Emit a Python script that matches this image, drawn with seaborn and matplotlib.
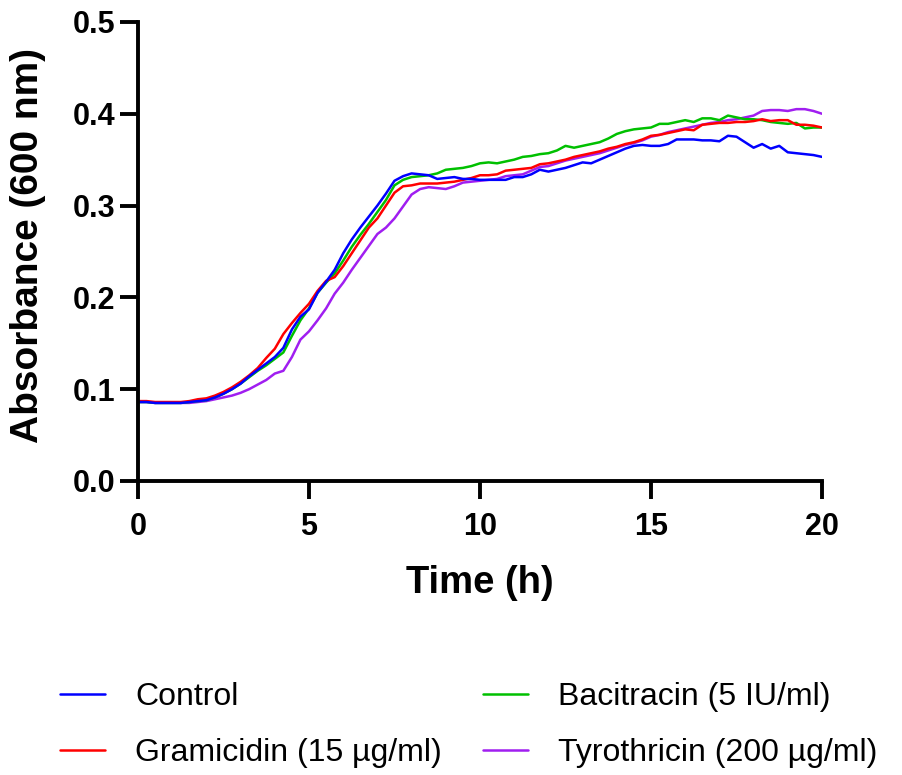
import numpy as np
import pandas as pd
import matplotlib
matplotlib.use("Agg")
import matplotlib.pyplot as plt
import seaborn as sns
from matplotlib.lines import Line2D

time_h = np.arange(0, 20.001, 0.25)

control = [0.086, 0.086, 0.085, 0.085, 0.085, 0.085, 0.086, 0.087, 0.088, 0.091,
           0.095, 0.100, 0.106, 0.114, 0.121, 0.128, 0.135, 0.145, 0.165, 0.179,
           0.187, 0.205, 0.217, 0.230, 0.248, 0.263, 0.276, 0.288, 0.300, 0.313,
           0.327, 0.332, 0.335, 0.334, 0.333, 0.329, 0.330, 0.331, 0.329, 0.329,
           0.328, 0.328, 0.328, 0.328, 0.331, 0.331, 0.334, 0.339, 0.337, 0.339,
           0.341, 0.344, 0.347, 0.346, 0.350, 0.354, 0.358, 0.362, 0.365, 0.366,
           0.365, 0.365, 0.367, 0.372, 0.372, 0.372, 0.371, 0.371, 0.370, 0.376,
           0.375, 0.369, 0.363, 0.367, 0.362, 0.365, 0.358, 0.357, 0.356, 0.355,
           0.353]

bacitracin = [0.086, 0.086, 0.085, 0.085, 0.085, 0.085, 0.086, 0.087, 0.088, 0.091,
              0.095, 0.100, 0.106, 0.113, 0.120, 0.126, 0.133, 0.140, 0.158, 0.175,
              0.188, 0.205, 0.216, 0.226, 0.240, 0.255, 0.268, 0.280, 0.293, 0.306,
              0.322, 0.328, 0.331, 0.332, 0.333, 0.335, 0.339, 0.340, 0.341, 0.343,
              0.346, 0.347, 0.346, 0.348, 0.350, 0.353, 0.354, 0.356, 0.357, 0.360,
              0.365, 0.363, 0.365, 0.367, 0.369, 0.373, 0.378, 0.381, 0.383, 0.384,
              0.385, 0.389, 0.389, 0.391, 0.393, 0.391, 0.395, 0.395, 0.393, 0.398,
              0.396, 0.394, 0.394, 0.393, 0.391, 0.390, 0.389, 0.390, 0.384, 0.385,
              0.385]

gramicidin = [0.087, 0.087, 0.086, 0.086, 0.086, 0.086, 0.087, 0.089, 0.090, 0.093,
              0.097, 0.102, 0.108, 0.115, 0.123, 0.134, 0.144, 0.160, 0.172, 0.183,
              0.193, 0.207, 0.218, 0.222, 0.234, 0.248, 0.262, 0.276, 0.286, 0.300,
              0.314, 0.321, 0.322, 0.324, 0.324, 0.324, 0.325, 0.326, 0.328, 0.330,
              0.333, 0.333, 0.334, 0.338, 0.339, 0.340, 0.341, 0.345, 0.346, 0.348,
              0.350, 0.353, 0.355, 0.357, 0.359, 0.362, 0.364, 0.367, 0.369, 0.372,
              0.376, 0.377, 0.379, 0.381, 0.383, 0.382, 0.388, 0.389, 0.390, 0.390,
              0.391, 0.391, 0.392, 0.394, 0.392, 0.393, 0.393, 0.388, 0.388, 0.387,
              0.385]

tyrothricin = [0.086, 0.086, 0.085, 0.085, 0.085, 0.085, 0.085, 0.086, 0.087, 0.089,
               0.091, 0.093, 0.096, 0.100, 0.105, 0.110, 0.117, 0.120, 0.135, 0.154,
               0.163, 0.175, 0.188, 0.204, 0.216, 0.230, 0.243, 0.256, 0.269, 0.276,
               0.286, 0.299, 0.312, 0.318, 0.320, 0.319, 0.318, 0.321, 0.325, 0.326,
               0.327, 0.328, 0.329, 0.332, 0.333, 0.334, 0.338, 0.342, 0.343, 0.346,
               0.349, 0.351, 0.353, 0.355, 0.357, 0.360, 0.363, 0.366, 0.368, 0.371,
               0.375, 0.377, 0.380, 0.382, 0.384, 0.386, 0.388, 0.390, 0.391, 0.393,
               0.394, 0.396, 0.398, 0.403, 0.404, 0.404, 0.403, 0.405, 0.405, 0.403,
               0.400]

labels = ["Control", "Bacitracin (5 IU/ml)", "Gramicidin (15 µg/ml)", "Tyrothricin (200 µg/ml)"]
colors = ["#0000FF", "#00C000", "#FF0000", "#A01EF0"]
series = [control, bacitracin, gramicidin, tyrothricin]
draw_order = ["Tyrothricin (200 µg/ml)", "Bacitracin (5 IU/ml)", "Gramicidin (15 µg/ml)", "Control"]

frames = []
for lab, vals in zip(labels, series):
    frames.append(pd.DataFrame({"Time (h)": time_h, "Absorbance": vals, "Condition": lab}))
df = pd.concat(frames, ignore_index=True)

sns.set_style("ticks")
plt.rcParams['font.family'] = ['Liberation Sans', 'DejaVu Sans']
plt.rcParams['text.color'] = 'black'
plt.rcParams['axes.labelcolor'] = 'black'
plt.rcParams['xtick.color'] = 'black'
plt.rcParams['ytick.color'] = 'black'

fig = plt.figure(figsize=(9.02, 7.75), dpi=100)
ax = fig.add_axes([0.153, 0.3794, 0.7583, 0.5923])

palette = dict(zip(labels, colors))
sns.lineplot(data=df, x="Time (h)", y="Absorbance", hue="Condition",
             hue_order=draw_order, palette=palette, linewidth=1.8,
             ax=ax, legend=False)

ax.set_xlim(0, 20)
ax.set_ylim(0, 0.5)
ax.set_xticks([0, 5, 10, 15, 20])
ax.set_yticks([0.0, 0.1, 0.2, 0.3, 0.4, 0.5])
ax.set_yticklabels(["0.0", "0.1", "0.2", "0.3", "0.4", "0.5"])
for s in ["top", "right"]:
    ax.spines[s].set_visible(False)
for s in ["left", "bottom"]:
    ax.spines[s].set_linewidth(2.8)
    ax.spines[s].set_color("black")
    ax.spines[s].set_capstyle("projecting")
ax.tick_params(axis="both", width=2.8, length=13, labelsize=22, color="black",
               labelcolor="black")
ax.tick_params(axis="y", pad=3.5)
ax.tick_params(axis="x", pad=9)
for t in ax.get_xticklabels() + ax.get_yticklabels():
    t.set_fontweight("bold")
ax.set_xlabel("Time (h)", fontsize=27.5, fontweight="bold")
ax.set_ylabel("Absorbance (600 nm)", fontsize=28, fontweight="bold")
ax.xaxis.set_label_coords(0.5, -0.183)
ax.yaxis.set_label_coords(-0.134, 0.514)
ax.margins(0)

handles = [Line2D([0], [0], color=c, lw=1.8) for c in colors]
leg_order = [0, 2, 1, 3]
fig.legend([handles[i] for i in leg_order], [labels[i] for i in leg_order],
           loc="lower left", bbox_to_anchor=(0.035, -0.028), ncol=2, frameon=False,
           fontsize=23, handlelength=1.4, handletextpad=0.95, columnspacing=1.29,
           labelspacing=0.82)

fig.savefig("out.png", dpi=100)
